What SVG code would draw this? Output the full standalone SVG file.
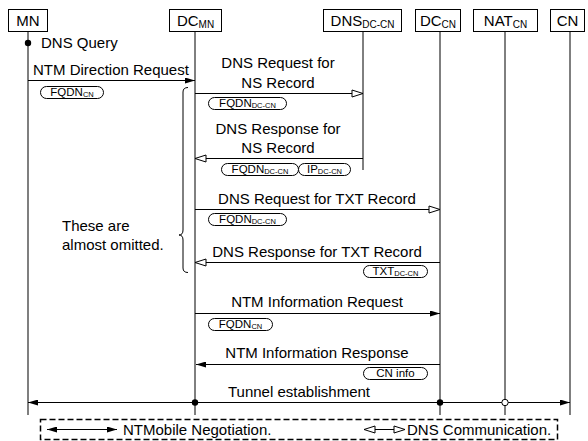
<svg xmlns="http://www.w3.org/2000/svg" width="588" height="441" viewBox="0 0 588 441">
  <style>
    text { font-family: "Liberation Sans", Arial, sans-serif; font-size: 15px; fill: #000; }
    .sub { font-size: 10px; }
    .pt { font-size: 11.5px; }
    .psub { font-size: 7.5px; }
    .box { fill: #fff; stroke: #000; stroke-width: 1; }
    .pill { fill: #fff; stroke: #000; stroke-width: 1; }
    .life { stroke: #000; stroke-width: 1; fill: none; }
    .life.gray { stroke: #7f7f7f; stroke-width: 2; }
    .msg { stroke: #000; stroke-width: 1; fill: none; }
    .mid { text-anchor: middle; }
  </style>
  <defs>
    <marker id="arrFill" viewBox="0 0 10 6" refX="10" refY="3" markerWidth="10" markerHeight="6" orient="auto-start-reverse" markerUnits="userSpaceOnUse">
      <path d="M0,0 L10,3 L0,6 z" fill="#000"/>
    </marker>
    <marker id="arrOpen" viewBox="-1 -1 13 9" refX="11" refY="3.5" markerWidth="13" markerHeight="9" orient="auto-start-reverse" markerUnits="userSpaceOnUse">
      <path d="M0,0 L11,3.5 L0,7 z" fill="#fff" stroke="#000" stroke-width="1"/>
    </marker>
  </defs>

  <!-- lifelines -->
  <g id="lifelines">
    <line class="life gray" x1="28" y1="31" x2="28" y2="415"/>
    <line class="life" x1="195" y1="31" x2="195" y2="415"/>
    <line class="life" x1="363" y1="31" x2="363" y2="170"/>
    <line class="life gray" x1="440" y1="31" x2="440" y2="415"/>
    <line class="life" x1="505" y1="31" x2="505" y2="415"/>
    <line class="life gray" x1="570" y1="31" x2="570" y2="415"/>
  </g>

  <!-- participants -->
  <g id="node-mn">
    <rect class="box" x="8.5" y="9.5" width="39" height="22"/>
    <text class="mid" x="28" y="26">MN</text>
  </g>
  <g id="node-dcmn">
    <rect class="box" x="169.5" y="9.5" width="52" height="22"/>
    <text class="mid" x="195.5" y="26">DC<tspan class="sub" dy="2">MN</tspan></text>
  </g>
  <g id="node-dns">
    <rect class="box" x="323.5" y="9.5" width="78" height="22"/>
    <text class="mid" x="362.5" y="26">DNS<tspan class="sub" dy="2">DC-CN</tspan></text>
  </g>
  <g id="node-dccn">
    <rect class="box" x="415.5" y="9.5" width="45" height="22"/>
    <text class="mid" x="438" y="26">DC<tspan class="sub" dy="2">CN</tspan></text>
  </g>
  <g id="node-natcn">
    <rect class="box" x="473.5" y="9.5" width="64" height="22"/>
    <text class="mid" x="505.5" y="26">NAT<tspan class="sub" dy="2">CN</tspan></text>
  </g>
  <g id="node-cn">
    <rect class="box" x="550.5" y="9.5" width="34" height="22"/>
    <text class="mid" x="567.5" y="26">CN</text>
  </g>

  <!-- messages -->
  <g id="connectors">
    <circle cx="28" cy="43" r="3.2" fill="#000"/>
    <line class="msg" x1="28" y1="80.5" x2="195" y2="80.5" marker-end="url(#arrFill)"/>
    <line class="msg" x1="195" y1="93.5" x2="363" y2="93.5" marker-end="url(#arrOpen)"/>
    <line class="msg" x1="363" y1="158.5" x2="195" y2="158.5" marker-end="url(#arrOpen)"/>
    <line class="msg" x1="195" y1="209.5" x2="440" y2="209.5" marker-end="url(#arrOpen)"/>
    <line class="msg" x1="440" y1="262.5" x2="195" y2="262.5" marker-end="url(#arrOpen)"/>
    <line class="msg" x1="195" y1="313.5" x2="440" y2="313.5" marker-end="url(#arrFill)"/>
    <line class="msg" x1="440" y1="364.5" x2="196" y2="364.5" marker-end="url(#arrFill)"/>
    <line class="msg" x1="28" y1="402.5" x2="570" y2="402.5" marker-start="url(#arrFill)" marker-end="url(#arrFill)"/>
    <circle cx="195" cy="402.5" r="3.2" fill="#000"/>
    <circle cx="440" cy="402.5" r="3.2" fill="#000"/>
    <circle cx="505" cy="402.5" r="3.2" fill="#fff" stroke="#000" stroke-width="1"/>
    <!-- brace around the DNS exchange -->
    <path class="msg" d="M188,87.5 Q183,87.5 183,92 L183,230 Q183,235 179,235 Q183,235 183,240 L183,268 Q183,272.5 188,272.5"/>
  </g>

  <!-- message labels -->
  <g id="labels">
    <text x="41" y="48">DNS Query</text>
    <text x="33" y="75">NTM Direction Request</text>
    <text class="mid" x="278" y="68">DNS Request for</text>
    <text class="mid" x="278" y="88">NS Record</text>
    <text class="mid" x="278" y="134">DNS Response for</text>
    <text class="mid" x="278" y="153">NS Record</text>
    <text class="mid" x="317" y="204">DNS Request for TXT Record</text>
    <text class="mid" x="317" y="257">DNS Response for TXT Record</text>
    <text class="mid" x="317" y="307">NTM Information Request</text>
    <text class="mid" x="317" y="358">NTM Information Response</text>
    <text class="mid" x="299" y="397">Tunnel establishment</text>
    <text x="62" y="231">These are</text>
    <text x="62" y="250">almost omitted.</text>
  </g>

  <!-- parameter tags -->
  <g id="params">
    <rect class="pill" x="40.5" y="86.5" width="63" height="12" rx="6" ry="6"/>
    <text class="pt mid" x="72" y="95.5">FQDN<tspan class="psub" dy="1.5">CN</tspan></text>

    <rect class="pill" x="208.5" y="97.5" width="78" height="12" rx="6" ry="6"/>
    <text class="pt mid" x="247.5" y="106.5">FQDN<tspan class="psub" dy="1.5">DC-CN</tspan></text>

    <rect class="pill" x="221.5" y="163.5" width="77" height="12" rx="6" ry="6"/>
    <text class="pt mid" x="260" y="172.5">FQDN<tspan class="psub" dy="1.5">DC-CN</tspan></text>
    <rect class="pill" x="298.5" y="163.5" width="52" height="12" rx="6" ry="6"/>
    <text class="pt mid" x="324.5" y="172.5">IP<tspan class="psub" dy="1.5">DC-CN</tspan></text>

    <rect class="pill" x="208.5" y="213.5" width="78" height="12" rx="6" ry="6"/>
    <text class="pt mid" x="247.5" y="222.5">FQDN<tspan class="psub" dy="1.5">DC-CN</tspan></text>

    <rect class="pill" x="363.5" y="265.5" width="64" height="12" rx="6" ry="6"/>
    <text class="pt mid" x="395.5" y="274.5">TXT<tspan class="psub" dy="1.5">DC-CN</tspan></text>

    <rect class="pill" x="208.5" y="318.5" width="64" height="12" rx="6" ry="6"/>
    <text class="pt mid" x="240.5" y="327.5">FQDN<tspan class="psub" dy="1.5">CN</tspan></text>

    <rect class="pill" x="363.5" y="367.5" width="64" height="12" rx="6" ry="6"/>
    <text class="pt mid" x="395.5" y="377">CN info</text>
  </g>

  <!-- legend -->
  <g id="legend">
    <rect x="40.5" y="419.5" width="517" height="20" fill="none" stroke="#000" stroke-width="1.5" stroke-dasharray="6,3"/>
    <line class="msg" x1="47" y1="429.5" x2="117" y2="429.5" marker-start="url(#arrFill)" marker-end="url(#arrFill)"/>
    <text x="123" y="435">NTMobile Negotiation.</text>
    <line class="msg" x1="364" y1="429.5" x2="405" y2="429.5" marker-start="url(#arrOpen)" marker-end="url(#arrOpen)"/>
    <text x="407" y="435">DNS Communication.</text>
  </g>
</svg>
